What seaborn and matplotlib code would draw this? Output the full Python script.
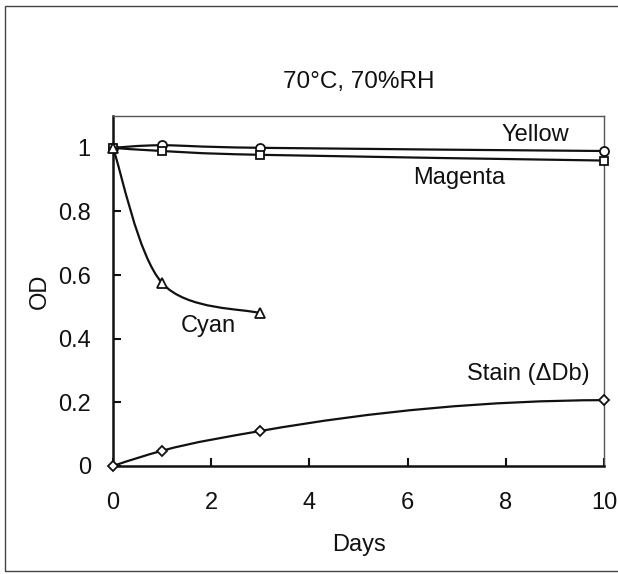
import numpy as np
import pandas as pd
import matplotlib
matplotlib.use("Agg")
import matplotlib.pyplot as plt
from matplotlib.path import Path
from matplotlib.patches import PathPatch, Rectangle
import seaborn as sns

# ---- data ----
days_yellow = [0, 1, 3, 10]
od_yellow = [1.0, 1.008, 1.0, 0.99]
days_magenta = [0, 1, 3, 10]
od_magenta = [1.0, 0.99, 0.978, 0.96]
days_cyan = [0, 1, 3]
od_cyan = [1.0, 0.575, 0.48]
days_stain = [0, 1, 3, 10]
od_stain = [0.0, 0.048, 0.11, 0.207]

series_names = ["Yellow", "Magenta", "Cyan", "Stain (ΔDb)"]
x_ticks = [0, 2, 4, 6, 8, 10]
y_ticks = [0, 0.2, 0.4, 0.6, 0.8, 1.0]
y_tick_labels = ["0", "0.2", "0.4", "0.6", "0.8", "1"]
title_text = "70°C, 70%RH"
x_label = "Days"
y_label = "OD"

# smoothing style of each drawn curve
curve_style = {"Yellow": "cr", "Magenta": "cr", "Cyan": "cr", "Stain (ΔDb)": "parabolic"}

sns.set_style("ticks")
plt.rcParams["font.family"] = ["Liberation Sans", "DejaVu Sans"]

fig = plt.figure(figsize=(6.18, 5.74), dpi=100)
ax = fig.add_axes([113 / 618, 1 - 466 / 574, (604 - 113) / 618, (466 - 116) / 574])

frames = []
for name, xs, ys in zip(series_names,
                        [days_yellow, days_magenta, days_cyan, days_stain],
                        [od_yellow, od_magenta, od_cyan, od_stain]):
    frames.append(pd.DataFrame({"Days": xs, "OD": ys, "series": name}))
df = pd.concat(frames, ignore_index=True)


def smooth_path(xs, ys, style):
    # Bezier smoothing through the data points (smoothed line rendering)
    pts = np.column_stack([xs, ys]).astype(float)
    n = len(pts)
    verts = [pts[0]]
    codes = [Path.MOVETO]
    if style == "cr":
        for i in range(n - 1):
            p0 = pts[i - 1] if i > 0 else pts[i]
            p1 = pts[i]
            p2 = pts[i + 1]
            p3 = pts[i + 2] if i + 2 < n else pts[i + 1]
            c1 = p1 + (p2 - p0) / 6.0
            c2 = p2 - (p3 - p1) / 6.0
            verts += [c1, c2, p2]
            codes += [Path.CURVE4] * 3
    else:
        x = pts[:, 0]
        y = pts[:, 1]
        m = np.zeros(n)
        for i in range(n):
            j = min(max(i - 1, 0), n - 3)
            xa, xb, xc = x[j:j + 3]
            ya, yb, yc = y[j:j + 3]
            f1 = (yb - ya) / (xb - xa)
            f2 = (yc - yb) / (xc - xb)
            c = (f2 - f1) / (xc - xa)
            m[i] = f1 + c * (2 * x[i] - xa - xb)
        for i in range(n - 1):
            h = x[i + 1] - x[i]
            c1 = np.array([x[i] + h / 3, y[i] + m[i] * h / 3])
            c2 = np.array([x[i + 1] - h / 3, y[i + 1] - m[i + 1] * h / 3])
            verts += [c1, c2, pts[i + 1]]
            codes += [Path.CURVE4] * 3
    return Path(verts, codes)


for name in series_names:
    sub = df[df["series"] == name]
    ax.add_patch(PathPatch(smooth_path(sub["Days"].values, sub["OD"].values,
                                       curve_style[name]),
                           facecolor="none", edgecolor="#111111", lw=1.6,
                           zorder=2, clip_on=False))

markers = {"Yellow": "o", "Magenta": "s", "Cyan": "^", "Stain (ΔDb)": "D"}
sizes = {"Yellow": 6.5, "Magenta": 6, "Cyan": 7, "Stain (ΔDb)": 5}
for name in series_names:
    sub = df[df["series"] == name]
    sns.lineplot(data=sub, x="Days", y="OD", ax=ax, lw=0,
                 marker=markers[name], markersize=sizes[name],
                 markerfacecolor="white", markeredgecolor="#111111",
                 markeredgewidth=1.3, color="#111111", legend=False,
                 zorder=3, clip_on=False)

ax.set_xlim(0, 10)
ax.set_ylim(0, 1.1)
ax.set_xticks(x_ticks)
ax.set_xticklabels([str(t) for t in x_ticks])
ax.set_yticks(y_ticks)
ax.set_yticklabels(y_tick_labels)
ax.tick_params(axis="both", direction="in", length=6, width=1.5,
               labelsize=17, colors="#111111")
ax.tick_params(axis="x", pad=19)
ax.tick_params(axis="y", pad=16)

for side in ["left", "bottom"]:
    ax.spines[side].set_linewidth(1.8)
    ax.spines[side].set_color("#111111")
for side in ["top", "right"]:
    ax.spines[side].set_visible(True)
    ax.spines[side].set_linewidth(1.0)
    ax.spines[side].set_color("#555555")

ax.set_xlabel(x_label, fontsize=17, labelpad=14, color="#111111")
ax.set_ylabel(y_label, fontsize=17, labelpad=5, color="#111111")
ax.set_title(title_text, fontsize=17.5, pad=20, color="#111111")

ax.text(8.6, 1.04, "Yellow", fontsize=17, ha="center", va="center", color="#111111")
ax.text(7.05, 0.905, "Magenta", fontsize=17, ha="center", va="center", color="#111111")
ax.text(1.95, 0.44, "Cyan", fontsize=17, ha="center", va="center", color="#111111")
ax.text(8.45, 0.29, "Stain (ΔDb)", fontsize=17, ha="center", va="center", color="#111111")

fig.add_artist(Rectangle((5 / 618, 1 - 571 / 574), 1.2, (571 - 6) / 574,
                         transform=fig.transFigure, fill=False,
                         edgecolor="#444444", lw=1.0))

fig.savefig("out.png", dpi=100)
